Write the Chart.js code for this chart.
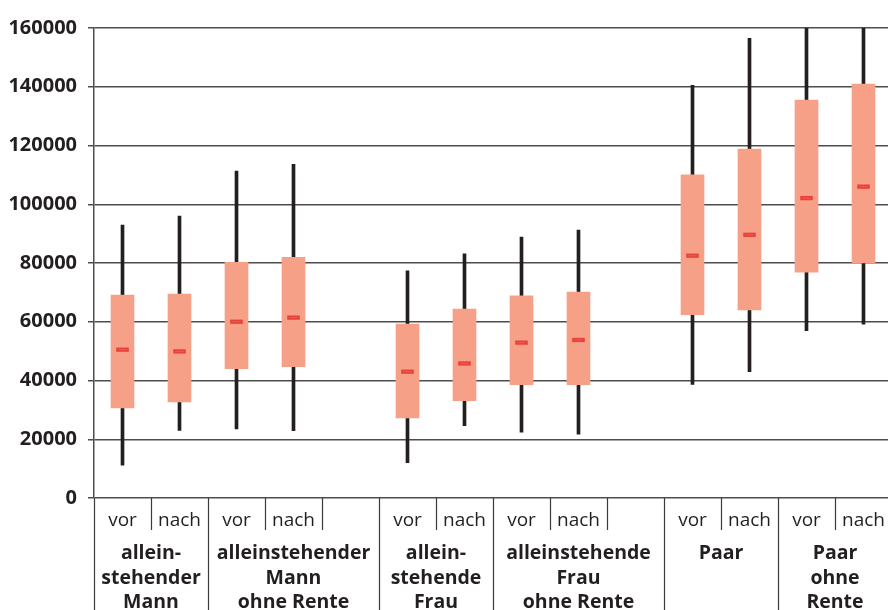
<!DOCTYPE html>
<html>
<head>
<meta charset="utf-8">
<script src="https://cdn.jsdelivr.net/npm/chart.js@4.4.1/dist/chart.umd.min.js"></script>
<style>
  html, body { margin: 0; padding: 0; background: #fff; }
  #wrap { width: 888px; height: 610px; position: relative; }
</style>
</head>
<body>
<div id="wrap"><canvas id="c" width="888" height="610"></canvas></div>
<script>
// ---- data ----
const slots = [0, 1, 2, 3, 5, 6, 7, 8, 10, 11, 12, 13];
const phaseLabels = ['vor', 'nach', 'vor', 'nach', 'vor', 'nach', 'vor', 'nach', 'vor', 'nach', 'vor', 'nach'];
const whiskerLow  = [11200, 23000, 23500, 22900, 12000, 24600, 22400, 21700, 38700, 43000, 57000, 59200];
const boxLow      = [30700, 32700, 44000, 44700, 27300, 33100, 38600, 38600, 62400, 64000, 76900, 80000];
const medians     = [50500, 49900, 60000, 61400, 43000, 45800, 52900, 53800, 82500, 89600, 102100, 106000];
const boxHigh     = [69100, 69400, 80200, 81900, 59200, 64300, 68800, 70100, 110000, 118800, 135500, 140900];
const whiskerHigh = [92900, 96000, 111300, 113600, 77300, 83100, 88800, 91200, 140500, 156500, 160000, 160000];
const categoryLabels = [
  ['allein-', 'stehender', 'Mann'],
  ['alleinstehender', 'Mann', 'ohne Rente'],
  ['allein-', 'stehende', 'Frau'],
  ['alleinstehende', 'Frau', 'ohne Rente'],
  ['Paar'],
  ['Paar', 'ohne', 'Rente']
];
const categorySpans = [[0, 2], [2, 5], [5, 7], [7, 10], [10, 12], [12, 14]];
const yTicks = [0, 20000, 40000, 60000, 80000, 100000, 120000, 140000, 160000];

const TEXT = '#231f20';
const GRID = '#4d4d4d';

const xAxisPlugin = {
  id: 'xAxisLabels',
  afterDraw(chart) {
    const ctx = chart.ctx;
    const x = chart.scales.x;
    const top = chart.chartArea.bottom;
    ctx.save();
    ctx.strokeStyle = '#3a3a3a';
    ctx.lineWidth = 1.2;
    const longB = new Set();
    categorySpans.forEach(s => { longB.add(s[0]); longB.add(s[1]); });
    for (let k = 0; k <= 14; k++) {
      const px = Math.round(x.getPixelForValue(k - 0.5)) + 0.5;
      if (px > chart.width) continue;
      ctx.beginPath();
      ctx.moveTo(px, top);
      ctx.lineTo(px, longB.has(k) ? chart.height : top + 32);
      ctx.stroke();
    }
    ctx.fillStyle = TEXT;
    ctx.textAlign = 'center';
    ctx.textBaseline = 'alphabetic';
    ctx.font = '19px "Open Sans"';
    slots.forEach((s, i) => {
      ctx.fillText(phaseLabels[i], x.getPixelForValue(s), 526);
    });
    ctx.font = 'bold 19.5px "Open Sans"';
    categorySpans.forEach((s, i) => {
      const cx = (x.getPixelForValue(s[0] - 0.5) + x.getPixelForValue(s[1] - 0.5)) / 2;
      categoryLabels[i].forEach((line, j) => {
        ctx.fillText(line, cx, 559 + j * 24.5);
      });
    });
    ctx.restore();
  }
};

const medianInner = {
  id: 'medianInner',
  afterDatasetsDraw(chart) {
    const ctx = chart.ctx;
    const meta = chart.getDatasetMeta(0);
    ctx.save();
    ctx.strokeStyle = 'rgba(240,95,85,0.8)';
    ctx.lineWidth = 1;
    meta.data.forEach(p => {
      ctx.beginPath();
      ctx.moveTo(p.x - 4, p.y);
      ctx.lineTo(p.x + 4, p.y);
      ctx.stroke();
    });
    ctx.restore();
  }
};

new Chart(document.getElementById('c'), {
  type: 'bar',
  data: {
    datasets: [
      {
        type: 'line',
        label: 'Median',
        data: slots.map((s, i) => ({ x: s, y: medians[i] })),
        showLine: false,
        pointStyle: 'line',
        pointRadius: 6.3,
        pointHoverRadius: 6.3,
        borderWidth: 4.3,
        borderColor: '#e8433a',
        backgroundColor: '#e8433a',
        order: 0
      },
      {
        label: 'Box',
        data: slots.map((s, i) => ({ x: s, y: [boxLow[i], boxHigh[i]] })),
        backgroundColor: '#f7a088',
        borderWidth: 0,
        barThickness: 23,
        grouped: false,
        order: 1
      },
      {
        label: 'Whisker',
        data: slots.map((s, i) => ({ x: s, y: [whiskerLow[i], whiskerHigh[i]] })),
        backgroundColor: '#231f20',
        borderWidth: 0,
        barThickness: 3,
        grouped: false,
        order: 2
      }
    ]
  },
  options: {
    responsive: false,
    animation: false,
    devicePixelRatio: 1,
    layout: { autoPadding: false, padding: { top: 28, right: 0, bottom: 112, left: 0 } },
    plugins: { legend: { display: false }, tooltip: { enabled: false } },
    scales: {
      x: {
        type: 'linear',
        min: -0.5,
        max: 13.43,
        offset: false,
        display: false
      },
      y: {
        min: 0,
        max: 160000,
        afterBuildTicks(scale) { scale.ticks = yTicks.map(v => ({ value: v })); },
        afterFit(scale) { scale.width = 94; },
        grid: {
          color: GRID,
          lineWidth: 1.5,
          drawTicks: true,
          tickLength: 6,
          tickColor: GRID
        },
        border: { display: true, color: GRID, width: 1.5 },
        ticks: {
          padding: 11,
          color: TEXT,
          font: { family: '"Open Sans"', weight: 'bold', size: 20 },
          callback: v => String(v)
        }
      }
    }
  },
  plugins: [xAxisPlugin, medianInner]
});
</script>
</body>
</html>
